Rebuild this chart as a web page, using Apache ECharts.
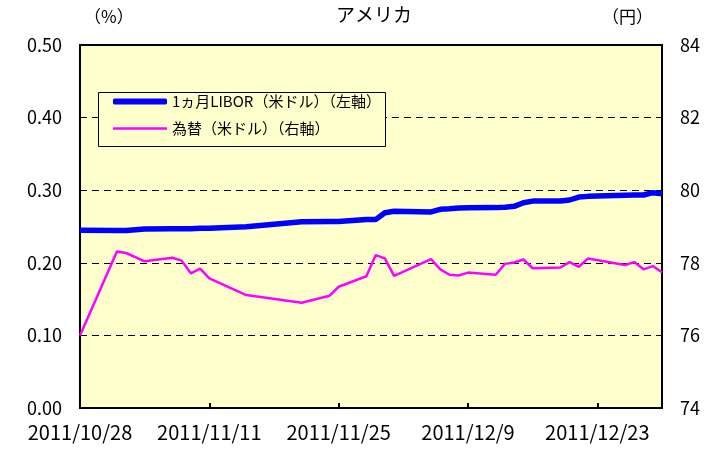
<!DOCTYPE html>
<html lang="ja">
<head>
<meta charset="UTF-8">
<title>アメリカ</title>
<script src="https://cdn.jsdelivr.net/npm/echarts@6/dist/echarts.min.js"></script>
<style>
  html, body { margin: 0; padding: 0; background: #fff; }
  #chart { width: 718px; height: 452px; }
</style>
</head>
<body>
<div id="chart"></div>
<script>
// business days shown in the chart (Tokyo close)
var dates = ['2011-10-28', '2011-11-01', '2011-11-02', '2011-11-04', '2011-11-07', '2011-11-08',
  '2011-11-09', '2011-11-10', '2011-11-11', '2011-11-15', '2011-11-21', '2011-11-24',
  '2011-11-25', '2011-11-28', '2011-11-29', '2011-11-30', '2011-12-01', '2011-12-05',
  '2011-12-06', '2011-12-07', '2011-12-08', '2011-12-09', '2011-12-12', '2011-12-13',
  '2011-12-14', '2011-12-15', '2011-12-16', '2011-12-19', '2011-12-20', '2011-12-21',
  '2011-12-22', '2011-12-26', '2011-12-27', '2011-12-28', '2011-12-29', '2011-12-30']
// 1ヵ月LIBOR (%)
var libor = [0.245, 0.2445, 0.2445, 0.2465, 0.247, 0.247,
  0.247, 0.2475, 0.2475, 0.2495, 0.2565, 0.257,
  0.257, 0.2595, 0.2595, 0.269, 0.271, 0.270,
  0.2737, 0.2745, 0.2755, 0.2757, 0.276, 0.2765,
  0.2778, 0.2828, 0.285, 0.285, 0.2865, 0.2906,
  0.2915, 0.2932, 0.2934, 0.2934, 0.2966, 0.2952]
// 為替 (円/ドル)
var yen = [76.0, 78.31, 78.27, 78.04, 78.14, 78.06,
  77.71, 77.84, 77.57, 77.11, 76.90, 77.09,
  77.34, 77.63, 78.21, 78.12, 77.64, 78.10,
  77.82, 77.67, 77.65, 77.73, 77.67, 77.97,
  78.01, 78.09, 77.85, 77.87, 78.02, 77.89,
  78.12, 77.94, 78.02, 77.82, 77.91, 77.74]

var startDate = '2011-10-28'
var endDate = '2011-12-30'
var leftTicks = { min: 0, max: 0.5, interval: 0.1 }
var rightTicks = { min: 74, max: 84, interval: 2 }
var xInterval = 14
var names = ['1ヵ月LIBOR（米ドル）（左軸）', '為替（米ドル）（右軸）']

var DAY = 86400000
function dayOf(s) { return (Date.parse(s) - Date.parse(startDate)) / DAY }
function label(d) {
  var t = new Date(Date.parse(startDate) + d * DAY)
  return t.getUTCFullYear() + '/' + (t.getUTCMonth() + 1) + '/' + t.getUTCDate()
}

var font = '"Noto Sans CJK JP", sans-serif'
var chart = echarts.init(document.getElementById('chart'))

var legendText = { fontSize: 15, color: '#000', fontFamily: font }

chart.setOption({
  animation: false,
  textStyle: { fontFamily: font },
  grid: {
    left: 80, right: 56, top: 45, bottom: 44,
    show: true, backgroundColor: '#FFFFCC', borderColor: '#000', borderWidth: 2
  },
  graphic: [
    { type: 'text', left: 336, top: 5, style: { text: 'アメリカ', font: '19px ' + font, fill: '#000' } },
    { type: 'text', left: 84, top: 8, style: { text: '（%）', font: '17px ' + font, fill: '#000' } },
    { type: 'text', left: 602, top: 8, style: { text: '（円）', font: '17px ' + font, fill: '#000' } },
    // legend frame
    { type: 'rect', z: 3, shape: { x: 98.5, y: 92.5, width: 287, height: 54 },
      style: { fill: '#FFFFCC', stroke: '#000', lineWidth: 1 } }
  ],
  legend: [{
    left: 113, top: 94, padding: 0, z: 5,
    itemWidth: 54, itemHeight: 6, icon: 'roundRect',
    textStyle: legendText,
    data: [names[0]]
  }, {
    left: 113, top: 121, padding: 0, z: 5,
    itemWidth: 54, itemHeight: 2.5, icon: 'rect',
    textStyle: legendText,
    data: [names[1]]
  }],
  xAxis: {
    type: 'value',
    min: 0, max: dayOf(endDate), interval: xInterval,
    axisLine: { show: false },
    axisTick: { show: true, inside: true, length: 5, lineStyle: { color: '#000', width: 2 } },
    splitLine: { show: false },
    axisLabel: {
      margin: 14, fontSize: 20, color: '#000', fontFamily: font,
      showMaxLabel: false,
      formatter: function (v) { return v % xInterval === 0 ? label(v) : '' }
    }
  },
  yAxis: [{
    type: 'value',
    min: leftTicks.min, max: leftTicks.max, interval: leftTicks.interval,
    axisLine: { show: false }, axisTick: { show: false },
    axisLabel: { margin: 18, fontSize: 18, color: '#000', fontFamily: font, formatter: function (v) { return v.toFixed(2) } },
    splitLine: { show: true, lineStyle: { color: '#000', type: [7, 5], width: 1 } }
  }, {
    type: 'value',
    min: rightTicks.min, max: rightTicks.max, interval: rightTicks.interval,
    axisLine: { show: false }, axisTick: { show: false },
    axisLabel: { margin: 18, fontSize: 18, color: '#000', fontFamily: font },
    splitLine: { show: false }
  }],
  series: [{
    name: names[0],
    type: 'line',
    symbol: 'none',
    color: '#0000FF',
    lineStyle: { width: 5.5, color: '#0000FF' },
    z: 2,
    data: dates.map(function (d, i) { return [dayOf(d), libor[i]] })
  }, {
    name: names[1],
    type: 'line',
    yAxisIndex: 1,
    symbol: 'none',
    color: '#FF00FF',
    lineStyle: { width: 2.5, color: '#FF00FF' },
    z: 2,
    data: dates.map(function (d, i) { return [dayOf(d), yen[i]] })
  }]
})
</script>
</body>
</html>
